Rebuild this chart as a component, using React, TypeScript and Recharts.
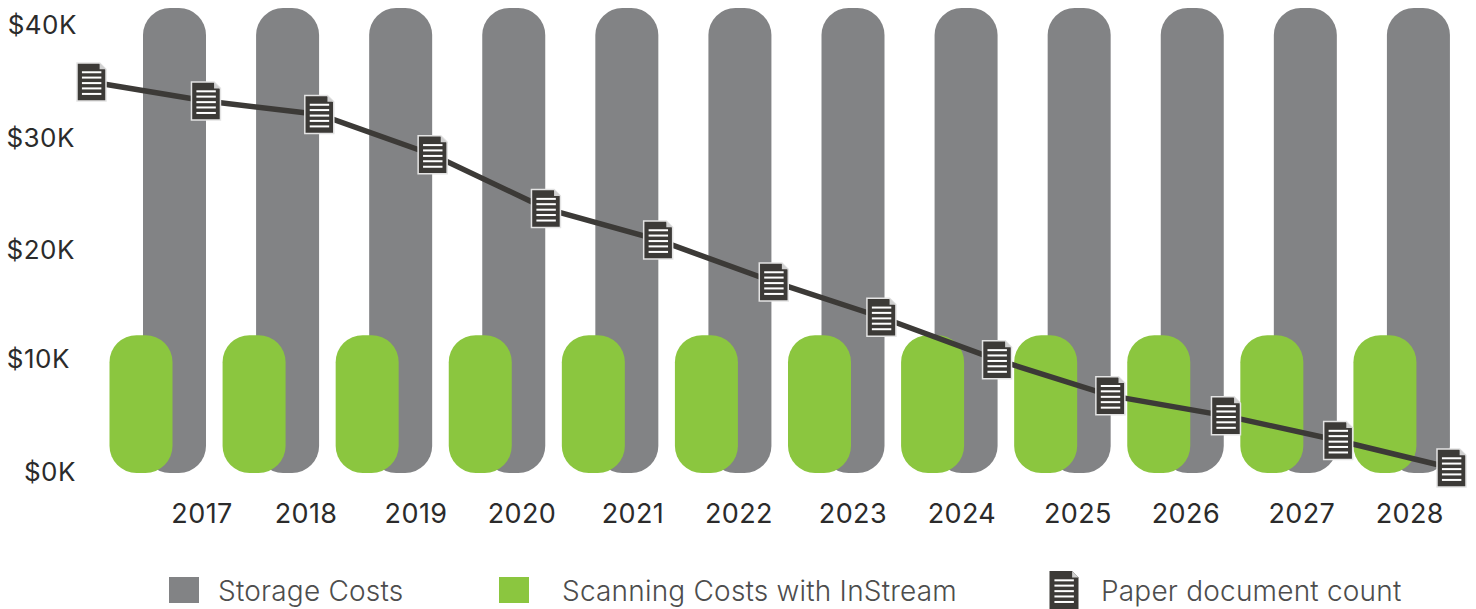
import React from 'react';
import { ComposedChart, Bar, Line, XAxis, YAxis, Legend } from 'recharts';

const years = ['2017', '2018', '2019', '2020', '2021', '2022', '2023', '2024', '2025', '2026', '2027', '2028'];
const storageCosts = [41.5, 41.5, 41.5, 41.5, 41.5, 41.5, 41.5, 41.5, 41.5, 41.5, 41.5, 41.5];
const scanningCosts = [12.3, 12.3, 12.3, 12.3, 12.3, 12.3, 12.3, 12.3, 12.3, 12.3, 12.3, 12.3];
const docYears = [2016, 2017.01, 2018.01, 2019.01, 2020.01, 2021, 2022.02, 2022.97, 2023.99, 2024.99, 2026.01, 2027, 2028];
const docCounts = [34.9, 33.2, 32, 28.4, 23.6, 20.8, 17.05, 13.9, 10.1, 6.9, 5.1, 2.9, 0.45];
const yTicks = [0, 10, 20, 30, 40];

const barData = years.map((year, i) => ({ year, storage: storageCosts[i], scanning: scanningCosts[i] }));
const lineData = docYears.map((pos, i) => ({ pos, docs: docCounts[i] }));

const FONT = 'Inter, sans-serif';
const GREY = '#828385';
const GREEN = '#8bc63f';
const DARK = '#3c3a37';

// year labels in the source are not evenly spaced
const xLabelNudge = [27.5, 18.4, 15.3, 8.2, 6.1, -1, -0.1, -4.2, -1.3, -6.4, -3.5, -8.6];
const yLabelRight: Record<number, number> = { 0: 76, 10: 70, 20: 75, 30: 75, 40: 77 };
const yLabelShift: Record<number, number> = { 0: 8, 10: 7, 20: 10, 30: 10, 40: 9 };

function DocIcon({ cx, cy, w = 29, h = 38, border = true }: any) {
    const x = cx - w / 2;
    const y = cy - h / 2;
    const fold = w * 0.22;
    const rows = [0.245, 0.385, 0.53, 0.67, 0.815];
    return (
        <g>
            <path
                d={`M${x} ${y}H${x + w - fold}L${x + w} ${y + fold}V${y + h}H${x}Z`}
                fill={DARK}
                stroke={border ? '#e4e4e4' : 'none'}
                strokeWidth={1.5}
            />
            <path d={`M${x + w - fold} ${y}V${y + fold}H${x + w}Z`} fill="#d0d0d0" />
            {rows.map((r) => (
                <rect key={r} x={x + w * 0.17} y={y + h * r - 1} width={w * 0.67} height={2} fill="#fff" />
            ))}
        </g>
    );
}

function DocDot(props: any) {
    const { cx, cy, index } = props;
    return <DocIcon key={index} cx={cx} cy={cy} />;
}

function YearTick({ x, y, payload, index }: any) {
    return (
        <text x={x + xLabelNudge[index]} y={y + 12} textAnchor="middle" fontFamily={FONT} fontSize={27} fill="#2b2b2b" letterSpacing={0.4}>
            {payload.value}
        </text>
    );
}

function MoneyTick({ y, payload }: any) {
    return (
        <text x={yLabelRight[payload.value]} y={y + yLabelShift[payload.value]} textAnchor="end" fontFamily={FONT} fontSize={26} fill="#2b2b2b" letterSpacing={0.5}>
            {`$${payload.value}K`}
        </text>
    );
}

function ChartLegend() {
    const label = { position: 'absolute', top: 44, fontFamily: FONT, fontSize: 28, fontWeight: 300, color: '#4d4d4d', lineHeight: '34px', whiteSpace: 'nowrap', letterSpacing: 0.2 } as React.CSSProperties;
    return (
        <div style={{ position: 'relative', width: 1476, height: 79 }}>
            <div style={{ position: 'absolute', left: 169, top: 47, width: 30, height: 26, background: GREY }} />
            <div style={label as any}><span style={{ position: 'absolute', left: 218 }}>Storage Costs</span></div>
            <div style={{ position: 'absolute', left: 499, top: 47, width: 30, height: 26, background: GREEN }} />
            <div style={label as any}><span style={{ position: 'absolute', left: 562 }}>Scanning Costs with InStream</span></div>
            <svg style={{ position: 'absolute', left: 1044, top: 38 }} width={40} height={44}>
                <DocIcon cx={20} cy={22} w={29} h={38} border={false} />
            </svg>
            <div style={label as any}><span style={{ position: 'absolute', left: 1101 }}>Paper document count</span></div>
        </div>
    );
}

export default function App() {
    return (
        <div style={{ position: 'absolute', left: 0, top: 0 }}>
            <ComposedChart width={1476} height={609} data={barData} margin={{ top: 8, right: 0, bottom: 0, left: 0 }}>
                <XAxis xAxisId="grey" dataKey="year" padding={{ left: 34, right: 1 }} height={57} axisLine={false} tickLine={false} tick={<YearTick />} interval={0} />
                <XAxis xAxisId="green" dataKey="year" padding={{ left: 0.5, right: 34.5 }} hide />
                <XAxis xAxisId="line" dataKey="pos" type="number" domain={[2016, 2028]} padding={{ left: 7.5, right: 24.5 }} hide />
                <YAxis domain={[0, 41.5]} ticks={yTicks} width={84} axisLine={false} tickLine={false} tick={<MoneyTick />} />
                <Legend content={<ChartLegend />} verticalAlign="bottom" height={79} />
                <Bar xAxisId="grey" dataKey="storage" name="Storage Costs" fill={GREY} barSize={63} radius={27} isAnimationActive={false} />
                <Bar xAxisId="green" dataKey="scanning" name="Scanning Costs with InStream" fill={GREEN} barSize={63} radius={27} isAnimationActive={false} />
                <Line
                    xAxisId="line"
                    data={lineData}
                    dataKey="docs"
                    name="Paper document count"
                    stroke={DARK}
                    strokeWidth={5.5}
                    dot={<DocDot />}
                    activeDot={false}
                    isAnimationActive={false}
                />
            </ComposedChart>
        </div>
    );
}
